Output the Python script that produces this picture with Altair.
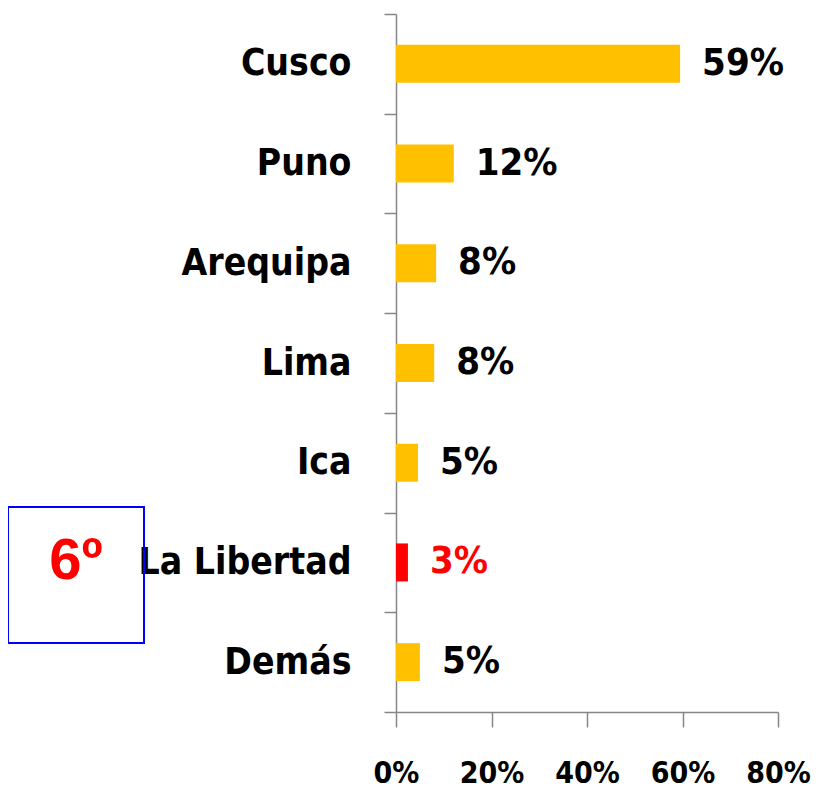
import altair as alt
import pandas as pd

categories = ["Cusco", "Puno", "Arequipa", "Lima", "Ica", "La Libertad", "Demás"]
values = [59.5, 12.1, 8.4, 8.0, 4.6, 2.5, 5.0]
labels = ["59%", "12%", "8%", "8%", "5%", "3%", "5%"]
colors = ["#FFC000", "#FFC000", "#FFC000", "#FFC000", "#FFC000", "#FF0000", "#FFC000"]
label_colors = ["#000000", "#000000", "#000000", "#000000", "#000000", "#FF0000", "#000000"]
x_ticks = [0, 20, 40, 60, 80]
rank_category = "La Libertad"
rank_text = "6º"

df = pd.DataFrame({
    "cat": categories,
    "val": values,
    "lab": labels,
    "col": colors,
    "lcol": label_colors,
})

FONT = "DejaVu Sans Condensed, sans-serif"

y_enc = alt.Y("cat:N", sort=categories, title=None,
              scale=alt.Scale(paddingInner=0, paddingOuter=0),
              axis=alt.Axis(tickBand="extent", tickSize=12, tickColor="#868686",
                            domainColor="#868686", domainWidth=1.5, tickWidth=1.5,
                            labelFont=FONT, labelFontSize=37, labelFontWeight="bold",
                            labelColor="#000000", labelPadding=33, labelLimit=400))
x_enc = alt.X("val:Q", title=None,
              scale=alt.Scale(domain=[0, 80], nice=False),
              axis=alt.Axis(values=x_ticks, labelExpr="datum.value + '%'",
                            tickSize=15, tickColor="#868686", domainColor="#868686",
                            domainWidth=1.5, tickWidth=1.5, grid=False,
                            labelFont=FONT, labelFontSize=30, labelFontWeight="bold",
                            labelColor="#000000", labelPadding=31, labelFlush=False))

base = alt.Chart(df)

bars = base.mark_bar(size=38).encode(
    x=x_enc, y=y_enc, color=alt.Color("col:N", scale=None))

texts = base.mark_text(align="left", baseline="middle", dx=22, font=FONT,
                       fontSize=38, fontWeight="bold").encode(
    x="val:Q", y=alt.Y("cat:N", sort=categories),
    text="lab:N", color=alt.Color("lcol:N", scale=None))

box_df = pd.DataFrame({"cat": [rank_category], "t": [rank_text]})
box = alt.Chart(box_df).mark_rect(fillOpacity=0, stroke="#0000FF", strokeWidth=2).encode(
    x=alt.value(-388), x2=alt.value(-252), y=alt.value(493), y2=alt.value(629))
rank = alt.Chart(box_df).mark_text(align="center", baseline="middle",
                                   font="Liberation Sans, Arial, sans-serif",
                                   fontSize=58, fontWeight="bold", color="#FF0000").encode(
    x=alt.value(-320), y=alt.Y("cat:N", sort=categories), text="t:N")

chart = alt.layer(box, bars, texts, rank).properties(
    width=382, height=698,
    padding={"left": 388, "top": 6, "right": 33, "bottom": 80},
    autosize=alt.AutoSizeParams(type="none"),
).configure_view(stroke=None)

chart.save("out.html", embed_options={"renderer": "svg", "actions": False})
